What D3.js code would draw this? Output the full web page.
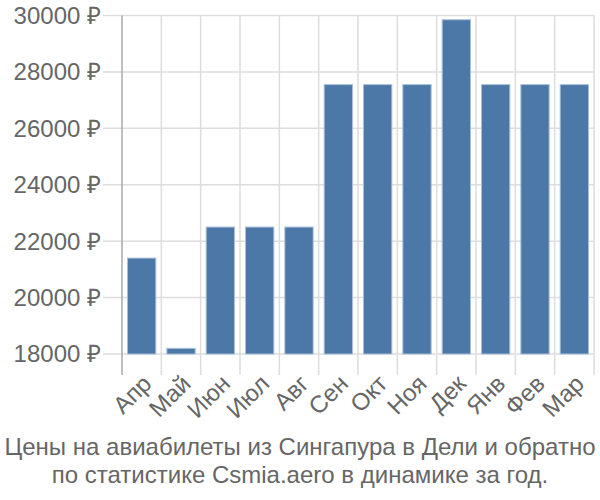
<!DOCTYPE html>
<html><head><meta charset="utf-8">
<script src="https://cdn.jsdelivr.net/npm/d3@7"></script>
<style>body{margin:0;background:#fff}svg{display:block;font-family:"Liberation Sans",Arial,sans-serif}</style>
</head><body><svg id="c" width="600" height="500"></svg>
<script>
const months = ["Апр","Май","Июн","Июл","Авг","Сен","Окт","Ноя","Дек","Янв","Фев","Мар"];
const prices = [21400,18200,22500,22500,22500,27550,27550,27550,29850,27550,27550,27550];
const yTicks = [18000,20000,22000,24000,26000,28000,30000];
const titleLines = ["Цены на авиабилеты из Сингапура в Дели и обратно","по статистике Csmia.aero в динамике за год."];

const svg = d3.select("#c");
const L=122,R=594,T=15.5,B=354;
const x = d3.scaleBand().domain(months).range([L,R]).paddingInner(0.28).paddingOuter(0.14);
const y = d3.scaleLinear().domain([18000,30000]).range([B,T]);
const bw = (R-L)/months.length;

svg.append("g").selectAll("line").data(yTicks).join("line")
  .attr("x1",103).attr("x2",R).attr("y1",d=>y(d)).attr("y2",d=>y(d))
  .attr("stroke","#ddd").attr("stroke-width",1.5);
svg.append("g").selectAll("line").data(d3.range(1,months.length+1)).join("line")
  .attr("x1",i=>L+i*bw).attr("x2",i=>L+i*bw).attr("y1",T).attr("y2",375)
  .attr("stroke","#ddd").attr("stroke-width",1.5);
svg.append("line").attr("x1",L).attr("x2",L).attr("y1",T).attr("y2",375).attr("stroke","#aaa").attr("stroke-width",1.5);

svg.append("g").selectAll("rect").data(prices).join("rect")
  .attr("x",(d,i)=>x(months[i])).attr("width",x.bandwidth())
  .attr("y",d=>y(d)).attr("height",d=>B-y(d))
  .attr("fill","#4c78a8").attr("stroke","#a8bfdb").attr("stroke-width",1);

svg.append("g").selectAll("text").data(yTicks).join("text")
  .attr("x",101).attr("y",d=>y(d)).attr("dy","0.35em").attr("text-anchor","end")
  .attr("font-size",24).attr("fill","#666").text(d=>d+" ₽");

svg.append("g").selectAll("text").data(months).join("text")
  .attr("transform",d=>`translate(${x(d)+x.bandwidth()/2+1},${375}) rotate(-45)`)
  .attr("text-anchor","end").attr("dy","0.6em").attr("font-size",24).attr("fill","#666").text(d=>d);

svg.append("g").selectAll("text").data(titleLines).join("text")
  .attr("x",300).attr("y",(d,i)=>455+i*28).attr("text-anchor","middle")
  .attr("font-size",24).attr("fill","#666").text(d=>d);
</script></body></html>
